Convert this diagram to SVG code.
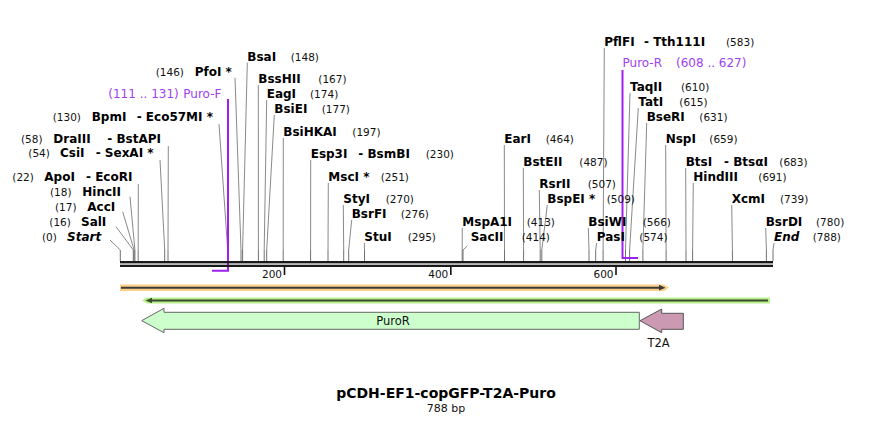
<svg xmlns="http://www.w3.org/2000/svg" width="894" height="424" viewBox="0 0 894 424">
<style>
text{font-family:"DejaVu Sans",Verdana,sans-serif}
.n{font-size:12px;font-weight:bold;fill:#000}
.i{font-style:italic}
.p{font-size:10.5px;fill:#111}
.pr{font-size:12px;fill:#a040f0}
.lead{fill:none;stroke:#8a8a8a;stroke-width:1}
.stem{fill:none;stroke:#707070;stroke-width:1}
.prim{fill:none;stroke:#a020f0;stroke-width:2}
.tick{stroke:#111;stroke-width:1.6}
.fl{font-size:11.5px;fill:#111;text-anchor:middle}
</style>
<rect width="894" height="424" fill="#fff"/>

<g id="connectors">
<path class="lead" d="M110,240L120.3,250M116,226.7L133.3,250M122.7,211.7L134.1,250M130,196.7L134.9,250M138.3,184L138.2,250M160,160L164.7,250M168.3,146L168,250M219,124L227.7,250M235,77.7L241,250"/>
<path class="lead" d="M247.3,62.7L242.6,250M258.3,85L258.4,250M266.7,100L264.2,250M274.3,115L266.7,250M283.3,138L283.2,250M310.7,160L310.6,250M328.3,183L328,250M343.3,205L343.7,250M351.7,220L348.7,250M364.3,243L364.5,250"/>
<path class="lead" d="M462.3,228L462.2,250M467.3,246L463,250M504.3,145L504.5,250M523.3,168L523.6,250M539.3,190L540.2,250M547.3,205L541.8,250M588.3,228L589,250M596.7,243L595.7,250M604.3,48L603.1,250M630,93L625.5,250M638.3,108L629.6,250M646.7,123L642.9,250M665.7,145L666.1,250M685.7,168L686,250M693.3,183L692.6,250M731.7,205L732.4,250M765.7,228L766.4,250M774,243L773,250"/>
<path class="stem" d="M120.3,250V261M133.3,250V261M134.1,250V261M134.9,250V261M138.2,250V261M164.7,250V261M168,250V261M227.7,250V261M241,250V261M242.6,250V261M258.4,250V261M264.2,250V261M266.7,250V261M283.2,250V261M310.6,250V261M328,250V261M343.7,250V261M348.7,250V261M364.5,250V261M462.2,250V261M463,250V261M504.5,250V261M523.6,250V261M540.2,250V261M541.8,250V261M589,250V261M595.7,250V261M603.1,250V261M625.5,250V261M629.6,250V261M642.9,250V261M666.1,250V261M686,250V261M692.6,250V261M732.4,250V261M766.4,250V261M773,250V261"/>
<path class="prim" d="M228,99V270.7H212"/>
<path class="prim" d="M622.5,70V258H638"/>
</g>

<g id="backbone">
<rect x="120" y="261" width="653" height="2.4" fill="#1a1a1a"/>
<rect x="120" y="264.7" width="653" height="2.3" fill="#1a1a1a"/>
<line class="tick" x1="284.5" y1="267" x2="284.5" y2="275"/>
<line class="tick" x1="450.8" y1="267" x2="450.8" y2="275"/>
<line class="tick" x1="616" y1="267" x2="616" y2="275"/>
<text class="p" x="282" y="277.5" text-anchor="end">200</text>
<text class="p" x="448.3" y="277.5" text-anchor="end">400</text>
<text class="p" x="613.5" y="277.5" text-anchor="end">600</text>
</g>

<g id="start"><text class="p" x="42" y="240.5">(0)</text><text class="n i" x="67" y="240.5">Start</text></g>
<g id="SalI"><text class="p" x="49.3" y="225.5">(16)</text><text class="n" x="81" y="225.5">SalI</text></g>
<g id="AccI"><text class="p" x="55" y="210.5">(17)</text><text class="n" x="87.3" y="210.5">AccI</text></g>
<g id="HincII"><text class="p" x="50" y="195.5">(18)</text><text class="n" x="82.3" y="195.5">HincII</text></g>
<g id="ApoI"><text class="p" x="12.3" y="180.5">(22)</text><text class="n" x="44.3" y="180.5">ApoI</text><text class="n" x="86" y="180.5">- EcoRI</text></g>
<g id="CsiI"><text class="p" x="28.3" y="157">(54)</text><text class="n" x="60" y="157">CsiI</text><text class="n" x="95.7" y="157">- SexAI *</text></g>
<g id="DraIII"><text class="p" x="21" y="143">(58)</text><text class="n" x="53.3" y="143">DraIII</text><text class="n" x="107.3" y="143">- BstAPI</text></g>
<g id="BpmI"><text class="p" x="52.7" y="120.5">(130)</text><text class="n" x="91.7" y="120.5">BpmI</text><text class="n" x="136.7" y="120.5">- Eco57MI *</text></g>
<g id="PuroF"><text class="pr" x="108.3" y="98">(111 .. 131)</text><text class="pr" x="183.3" y="98">Puro-F</text></g>
<g id="PfoI"><text class="p" x="155.7" y="75.5">(146)</text><text class="n" x="194.7" y="75.5">PfoI *</text></g>

<g id="BsaI"><text class="n" x="247.3" y="60.5">BsaI</text><text class="p" x="290.7" y="60.5">(148)</text></g>
<g id="BssHII"><text class="n" x="258.3" y="83">BssHII</text><text class="p" x="318.3" y="83">(167)</text></g>
<g id="EagI"><text class="n" x="266.7" y="98">EagI</text><text class="p" x="310" y="98">(174)</text></g>
<g id="BsiEI"><text class="n" x="274.3" y="113">BsiEI</text><text class="p" x="321.7" y="113">(177)</text></g>
<g id="BsiHKAI"><text class="n" x="283.3" y="135.5">BsiHKAI</text><text class="p" x="352.3" y="135.5">(197)</text></g>
<g id="Esp3I"><text class="n" x="310.7" y="158">Esp3I</text><text class="n" x="358.3" y="158">- BsmBI</text><text class="p" x="425.7" y="158">(230)</text></g>
<g id="MscI"><text class="n" x="328.3" y="180.5">MscI *</text><text class="p" x="380.7" y="180.5">(251)</text></g>
<g id="StyI"><text class="n" x="343.3" y="203">StyI</text><text class="p" x="385.7" y="203">(270)</text></g>
<g id="BsrFI"><text class="n" x="351.7" y="218">BsrFI</text><text class="p" x="400.7" y="218">(276)</text></g>
<g id="StuI"><text class="n" x="364.3" y="241">StuI</text><text class="p" x="407.7" y="241">(295)</text></g>

<g id="MspA1I"><text class="n" x="462.3" y="226">MspA1I</text><text class="p" x="526.7" y="226">(413)</text></g>
<g id="SacII"><text class="n" x="470.7" y="241">SacII</text><text class="p" x="521.7" y="241">(414)</text></g>
<g id="EarI"><text class="n" x="504.3" y="143">EarI</text><text class="p" x="545.7" y="143">(464)</text></g>
<g id="BstEII"><text class="n" x="523.3" y="165.5">BstEII</text><text class="p" x="579.3" y="165.5">(487)</text></g>
<g id="RsrII"><text class="n" x="539.3" y="188">RsrII</text><text class="p" x="587.7" y="188">(507)</text></g>
<g id="BspEI"><text class="n" x="547.3" y="203">BspEI *</text><text class="p" x="606.7" y="203">(509)</text></g>
<g id="BsiWI"><text class="n" x="588.3" y="226">BsiWI</text><text class="p" x="642.7" y="226">(566)</text></g>
<g id="PasI"><text class="n" x="596.7" y="241">PasI</text><text class="p" x="639.3" y="241">(574)</text></g>
<g id="PflFI"><text class="n" x="604.3" y="45.5">PflFI</text><text class="n" x="644" y="45.5">- Tth111I</text><text class="p" x="726" y="45.5">(583)</text></g>
<g id="PuroR-primer"><text class="pr" x="622.5" y="67">Puro-R</text><text class="pr" x="676" y="67">(608 .. 627)</text></g>
<g id="TaqII"><text class="n" x="630" y="90.5">TaqII</text><text class="p" x="681" y="90.5">(610)</text></g>
<g id="TatI"><text class="n" x="638.3" y="105.5">TatI</text><text class="p" x="679.3" y="105.5">(615)</text></g>
<g id="BseRI"><text class="n" x="646.7" y="120.5">BseRI</text><text class="p" x="699.3" y="120.5">(631)</text></g>
<g id="NspI"><text class="n" x="665.7" y="143">NspI</text><text class="p" x="709.3" y="143">(659)</text></g>
<g id="BtsI"><text class="n" x="685.7" y="165.5">BtsI</text><text class="n" x="724" y="165.5">- BtsαI</text><text class="p" x="779.3" y="165.5">(683)</text></g>
<g id="HindIII"><text class="n" x="693.3" y="181">HindIII</text><text class="p" x="758.3" y="181">(691)</text></g>
<g id="XcmI"><text class="n" x="731.7" y="203">XcmI</text><text class="p" x="780" y="203">(739)</text></g>
<g id="BsrDI"><text class="n" x="765.7" y="225.5">BsrDI</text><text class="p" x="816" y="225.5">(780)</text></g>
<g id="end"><text class="n i" x="774" y="240.5">End</text><text class="p" x="812.7" y="240.5">(788)</text></g>

<g id="orf-forward">
<polygon points="120,284.5 664,284.5 669,287.7 664,291 120,291" fill="#fdd08a"/>
<line x1="121" y1="287.7" x2="662" y2="287.7" stroke="#3a3a3a" stroke-width="2"/>
<polygon points="659,284.8 665.5,287.7 659,290.6" fill="#3a3a3a"/>
</g>
<g id="orf-reverse">
<polygon points="770,297.5 147,297.5 142,300.5 147,303.5 770,303.5" fill="#b6f08c"/>
<line x1="149" y1="300.5" x2="768" y2="300.5" stroke="#3c4a30" stroke-width="2"/>
<polygon points="152,297.7 145.5,300.5 152,303.3" fill="#3c4a30"/>
</g>
<g id="PuroR">
<polygon points="141.7,320.7 164,308.3 164,312.3 639.3,312.3 639.3,329.3 164,329.3 164,332.7" fill="#ccffcc" stroke="#666" stroke-width="1"/>
<text class="fl" x="393" y="325">PuroR</text>
</g>
<g id="T2A">
<polygon points="640,320.7 661.7,309 661.7,313.3 683.3,313.3 683.3,329.3 661.7,329.3 661.7,332.7" fill="#cc99b2" stroke="#555" stroke-width="1"/>
<text class="fl" x="658.5" y="346.5">T2A</text>
</g>

<g id="title">
<text x="446" y="398" text-anchor="middle" font-size="14" font-weight="bold" fill="#000">pCDH-EF1-copGFP-T2A-Puro</text>
<text x="446" y="412" text-anchor="middle" font-size="11" fill="#111">788 bp</text>
</g>
</svg>
